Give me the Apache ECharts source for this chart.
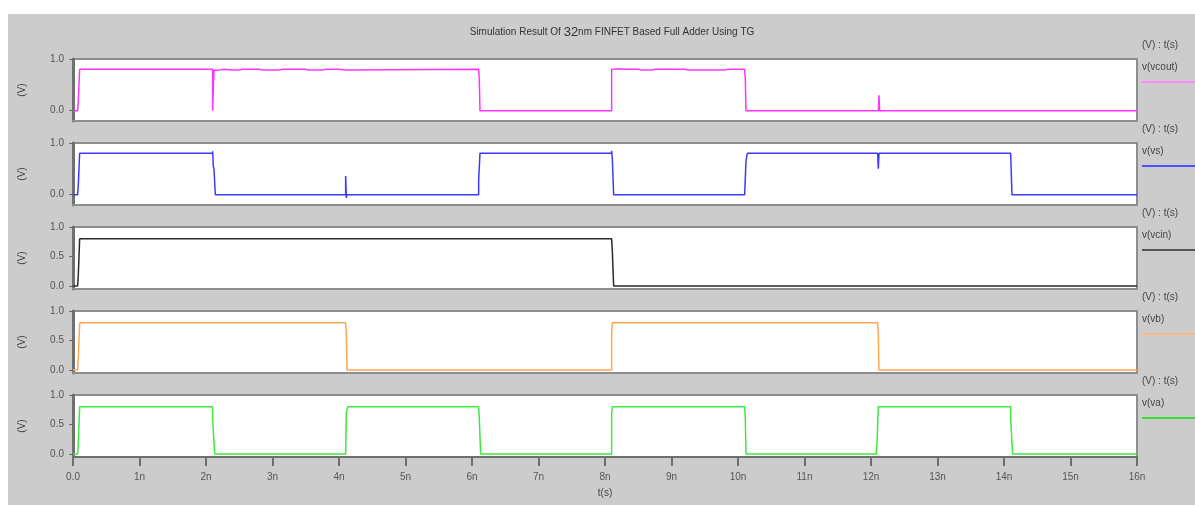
<!DOCTYPE html>
<html><head><meta charset="utf-8">
<script src="https://cdn.jsdelivr.net/npm/echarts@6/dist/echarts.min.js"></script>
<style>
html,body{margin:0;padding:0;background:#fff;}
#wrap{position:relative;width:1195px;height:505px;overflow:hidden;}
#bg{position:absolute;left:8px;top:14px;right:0;bottom:0;background:#cccccc;}
#chart{position:absolute;left:0;top:0;width:1195px;height:505px;}
</style></head><body>
<div id="wrap"><div id="bg"></div><div id="chart"></div></div>
<script>
// ---- text ----
const titleText = 'Simulation Result Of {big|32}nm FINFET Based Full Adder Using TG';
const signalNames = ['v(vcout)', 'v(vs)', 'v(vcin)', 'v(vb)', 'v(va)'];
const unitLabel = '(V) : t(s)';
const yName = '(V)';
const xName = 't(s)';
const xTickValues = [0,1,2,3,4,5,6,7,8,9,10,11,12,13,14,15,16];
const yTicksTwo = [0, 1];
const yTicksThree = [0, 0.5, 1];

// ---- data (time in ns, voltage in V) ----
const vcoutT = [0,0.07,0.08,0.09,0.1,2.1,2.1,2.11,2.12,2.15,2.2,2.28,2.38,2.5,2.55,2.8,2.85,3.1,3.15,3.5,3.55,3.75,3.8,4.0,4.03,4.08,4.1,6.1,6.11,6.12,8.1,8.1,8.12,8.15,8.2,8.3,8.5,8.55,8.7,8.75,9.2,9.25,9.8,9.85,10.1,10.11,10.12,12.11,12.12,12.13,14.1,14.1,14.11,16];
const vcoutV = [0,0,0.2,0.2,0.8,0.8,0.0,0.45,0.78,0.8,0.785,0.8,0.785,0.785,0.8,0.8,0.785,0.785,0.8,0.8,0.785,0.785,0.8,0.8,0.785,0.785,0.8,0.8,0.6,0,0,0.8,0.82,0.8,0.81,0.8,0.8,0.785,0.785,0.8,0.8,0.785,0.785,0.8,0.8,0.6,0,0,0.3,0,0,-0.03,0,0];

const vsT = [0,0.07,0.08,0.09,0.1,2.1,2.1,2.11,2.12,2.14,4.1,4.1,4.11,4.12,6.1,6.1,6.11,6.12,8.1,8.1,8.11,8.13,10.1,10.12,10.14,12.1,12.11,12.12,14.1,14.12,16];
const vsV = [0,0,0.2,0.2,0.8,0.8,0.84,0.55,0.5,0,0,0.36,-0.06,0,0,0.28,0.3,0.8,0.8,0.85,0.7,0,0,0.65,0.8,0.8,0.5,0.8,0.8,0,0];

const vcinT = [0,0.07,0.08,0.09,0.1,8.1,8.11,8.12,8.13,16];
const vcinV = [0,0,0.2,0.2,0.8,0.8,0.6,0.6,0,0];

const vbT = [0,0.07,0.08,0.09,0.1,4.1,4.11,4.12,8.1,8.1,8.11,12.1,12.11,12.12,16];
const vbV = [0,0,0.2,0.2,0.8,0.8,0.6,0,0,0.6,0.8,0.8,0.6,0,0];

const vaT = [0,0.07,0.08,0.09,0.1,2.1,2.1,2.12,2.13,4.1,4.11,4.13,6.1,6.11,6.12,6.13,8.1,8.1,8.11,10.1,10.11,10.12,12.08,12.09,12.11,14.1,14.1,14.12,14.13,16];
const vaV = [0,0,0.2,0.2,0.8,0.8,0.6,0.6,0,0,0.7,0.8,0.8,0.6,0.6,0,0,0.7,0.8,0.8,0.6,0,0,0.2,0.8,0.8,0.6,0.6,0,0];

const signalT = [vcoutT, vsT, vcinT, vbT, vaT];
const signalV = [vcoutV, vsV, vcinV, vbV, vaV];
const yMins = [-0.2, -0.2, -0.05, -0.05, -0.05];
const yTickSets = [yTicksTwo, yTicksTwo, yTicksThree, yTicksThree, yTicksThree];

// ---- styles ----
const lineColors = ['#ff33ff', '#3a3aff', '#2a2a2a', '#ffa556', '#3ee83e'];
const legendColors = ['#ff88ff', '#5050ff', '#555555', '#f6bb88', '#33dd33'];
const panelTops = [59, 143, 227, 311, 395];
const panelH = 62;
const FONT = 'Liberation Sans, Arial, sans-serif';

const chart = echarts.init(document.getElementById('chart'), null, {renderer: 'canvas'});

const grids = [], xAxes = [], yAxes = [], series = [], graphics = [];
for (let i = 0; i < 5; i++) {
  const last = i === 4;
  grids.push({left: 73, right: 58, top: panelTops[i], height: panelH, show: true,
    backgroundColor: '#ffffff', borderColor: '#8e8e8e', borderWidth: 2, containLabel: false});
  xAxes.push({type: 'value', gridIndex: i, min: 0, max: 16, interval: 1,
    axisLine: {show: true, onZero: false, lineStyle: {color: last ? '#6e6e6e' : '#8e8e8e', width: 2}},
    axisTick: {show: last, length: 9, lineStyle: {color: '#6e6e6e', width: 2}},
    axisLabel: {show: last, margin: 15, fontSize: 10, color: '#555', fontFamily: FONT,
      formatter: v => (v === 0 ? '0.0' : v + 'n')},
    splitLine: {show: false},
    name: last ? xName : '', nameLocation: 'middle', nameGap: 31,
    nameTextStyle: {fontSize: 10, color: '#444', fontFamily: FONT}});
  yAxes.push({type: 'value', gridIndex: i, min: yMins[i], max: 1,
    axisLine: {show: true, onZero: false, lineStyle: {color: '#707070', width: 3}},
    axisTick: {show: true, length: 4, customValues: yTickSets[i], lineStyle: {color: '#666', width: 1}},
    axisLabel: {show: true, margin: 9, fontSize: 10, color: '#555', fontFamily: FONT,
      customValues: yTickSets[i], formatter: v => v.toFixed(1)},
    splitLine: {show: false},
    name: yName, nameLocation: 'middle', nameRotate: 90, nameGap: 46,
    nameTextStyle: {fontSize: 10, color: '#444', fontFamily: FONT}});
  series.push({type: 'line', name: signalNames[i], xAxisIndex: i, yAxisIndex: i,
    data: signalT[i].map((t, k) => [t, signalV[i][k]]),
    showSymbol: false, symbol: 'none', lineStyle: {color: lineColors[i], width: 1.5},
    itemStyle: {color: lineColors[i]}, animation: false});
  const off = 84 * i;
  graphics.push({type: 'text', left: 1142, top: 40 + off,
    style: {text: unitLabel, fill: '#444', fontSize: 10, fontFamily: FONT}});
  graphics.push({type: 'text', left: 1142, top: 62 + off,
    style: {text: signalNames[i], fill: '#444', fontSize: 10, fontFamily: FONT}});
  graphics.push({type: 'line', shape: {x1: 1142, y1: 82 + off, x2: 1195, y2: 82 + off},
    style: {stroke: legendColors[i], lineWidth: 2}});
}

chart.setOption({
  animation: false,
  backgroundColor: 'transparent',
  title: {text: titleText, left: 607, top: 21, textAlign: 'center',
    textStyle: {fontSize: 10, fontWeight: 'normal', color: '#333', fontFamily: FONT,
      rich: {big: {fontSize: 13, color: '#333', fontFamily: FONT}}}},
  grid: grids, xAxis: xAxes, yAxis: yAxes, series: series, graphic: graphics
});
</script>
</body></html>
